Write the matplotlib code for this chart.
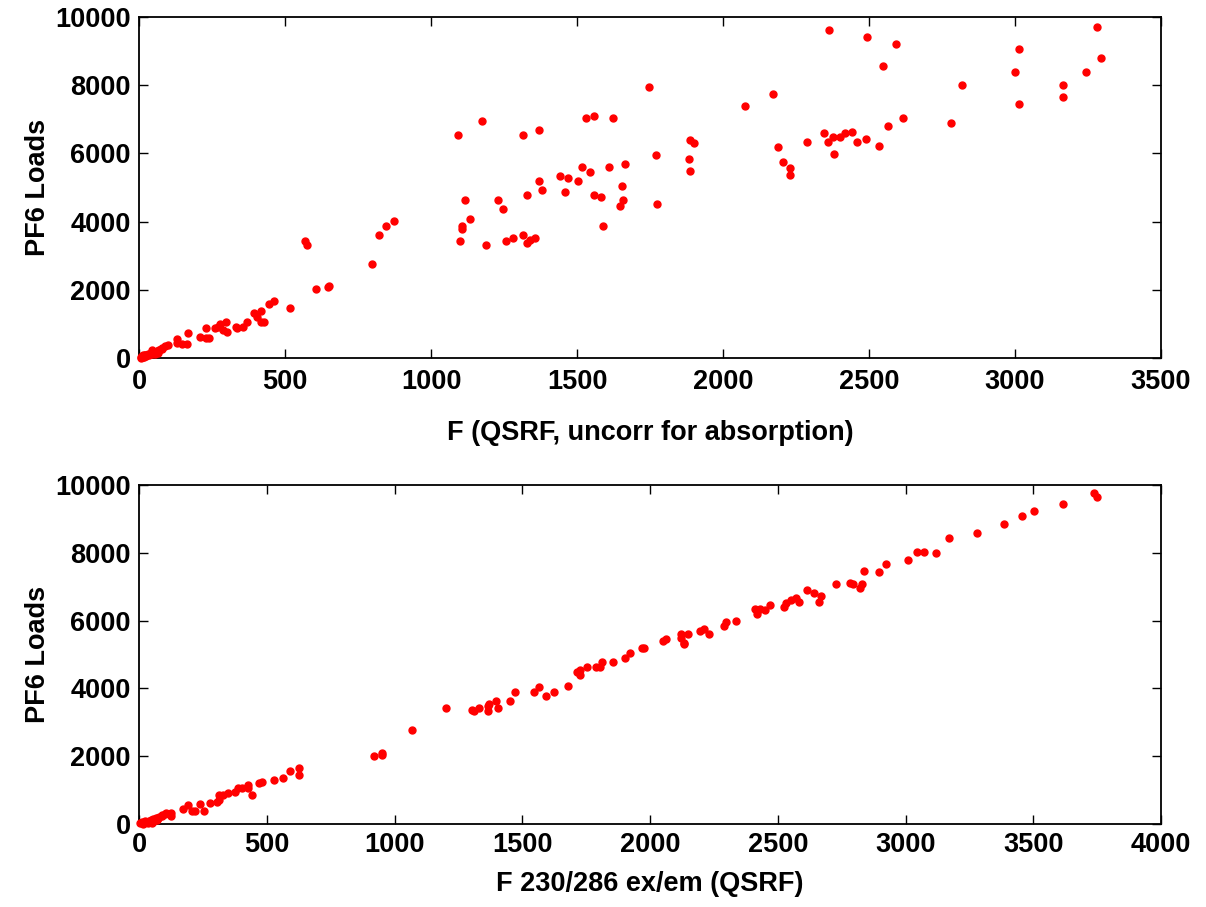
import numpy as np
import matplotlib.pyplot as plt

plt.rcParams['font.family'] = ['Liberation Sans', 'DejaVu Sans']
plt.rcParams['font.weight'] = 'bold'

# F (QSRF, uncorrected) vs PF6 loads
f_uncorr = [5, 8, 10, 12, 15, 18, 20, 25, 30, 35, 40, 45, 50, 55, 60, 65, 70, 80,
            21, 38, 44, 55, 67, 78, 90, 100, 129, 129, 147, 164, 169,
            209, 229, 229, 240, 260, 270, 277, 287, 298, 300, 331, 337, 355, 369,
            392, 403, 417, 417, 428, 446, 462, 517,
            568, 574, 605, 647, 652, 799, 823, 846, 874,
            1094, 1099, 1105, 1105, 1116, 1134, 1176, 1187, 1228, 1245, 1257, 1282,
            1316, 1316, 1328, 1328, 1339, 1357, 1370, 1370, 1381,
            1441, 1458, 1470, 1504, 1516, 1530, 1546, 1558, 1558, 1581, 1588,
            1611, 1623, 1646, 1653, 1659, 1664, 1747, 1769, 1775,
            1882, 1888, 1888, 1900, 2076, 2170, 2187, 2205, 2229, 2229, 2288,
            2346, 2358, 2364, 2376, 2381, 2400, 2417, 2441, 2459, 2488, 2494,
            2535, 2547, 2564, 2594, 2618, 2781, 2817,
            3000, 3012, 3012, 3164, 3164, 3242, 3282, 3293]
pf6_top = [30, 10, 60, 100, 20, 40, 90, 50, 120, 80, 150, 110, 180, 140, 200, 160, 230, 250,
           80, 130, 230, 130, 230, 280, 350, 380, 570, 430, 400, 400, 720,
           630, 870, 580, 600, 870, 920, 1010, 820, 1060, 770, 920, 870, 920, 1060,
           1320, 1210, 1370, 1060, 1060, 1570, 1660, 1470,
           3420, 3320, 2010, 2070, 2110, 2770, 3620, 3870, 4030,
           6540, 3420, 3870, 3770, 4630, 4080, 6950, 3320, 4630, 4380, 3420, 3520,
           6540, 3620, 4780, 3370, 3470, 3520, 6700, 5180, 4930,
           5340, 4880, 5290, 5180, 5590, 7050, 5440, 7100, 4780, 4730, 3870,
           5590, 7050, 4470, 5030, 4630, 5690, 7950, 5940, 4530,
           5840, 6390, 5480, 6290, 7390, 7750, 6190, 5740, 5580, 5380, 6330,
           6590, 6330, 9610, 6490, 5990, 6490, 6590, 6640, 6330, 6430, 9400,
           6230, 8550, 6790, 9210, 7050, 6890, 8000,
           8400, 9050, 7450, 8000, 7640, 8400, 9710, 8800]

# F 230/286 ex/em vs PF6 loads
f_230 = [5, 10, 15, 20, 25, 30, 35, 40, 45, 50, 55, 60, 65, 70, 75, 80, 90, 100,
         75, 88, 105, 124, 124, 171, 193, 206, 219, 239, 254, 278, 304, 311, 311,
         330, 350, 376, 389, 402, 428, 428, 442, 470, 483, 530, 564, 591, 625, 625,
         920, 952, 952, 1067, 1203, 1303, 1310, 1331, 1365, 1365, 1371, 1397, 1404,
         1451, 1472, 1546, 1566, 1593, 1626, 1680, 1713, 1726, 1726, 1753, 1787,
         1806, 1813, 1855, 1902, 1922, 1970, 1978, 2050, 2063, 2123, 2123, 2131,
         2131, 2150, 2197, 2210, 2230, 2291, 2298, 2338, 2411, 2418, 2431, 2451,
         2471, 2525, 2531, 2552, 2571, 2585, 2615, 2642, 2661, 2668, 2729, 2783,
         2796, 2822, 2829, 2836, 2896, 2924, 3011, 3045, 3071, 3118, 3172, 3280,
         3387, 3455, 3502, 3615, 3737, 3751]
pf6_bottom = [20, 60, 10, 30, 90, 50, 20, 80, 120, 40, 150, 100, 180, 130, 190, 220, 280, 300,
              190, 240, 310, 250, 310, 440, 560, 390, 390, 590, 390, 610, 660, 710, 860,
              860, 900, 950, 1050, 1050, 1050, 1150, 860, 1200, 1250, 1300, 1360, 1550, 1450, 1650,
              2010, 2050, 2100, 2760, 3420, 3370, 3320, 3420, 3320, 3480, 3530, 3630, 3420,
              3630, 3880, 3880, 4030, 3780, 3880, 4080, 4490, 4540, 4390, 4640, 4640,
              4640, 4790, 4790, 4900, 5040, 5190, 5190, 5400, 5450, 5600, 5500, 5300,
              5350, 5600, 5700, 5750, 5600, 5850, 5950, 6000, 6350, 6200, 6350, 6300,
              6460, 6400, 6510, 6610, 6660, 6560, 6910, 6810, 6560, 6720, 7070, 7120,
              7070, 6960, 7070, 7470, 7420, 7670, 7780, 8030, 8030, 7980, 8440, 8580,
              8840, 9090, 9240, 9440, 9750, 9650]

x_ticks_top = np.arange(0, 3501, 500)
x_ticks_bottom = np.arange(0, 4001, 500)
y_ticks = np.arange(0, 10001, 2000)

fig = plt.figure(figsize=(12.06, 9.07), dpi=100)
ax1 = fig.add_axes([0.1153, 0.6053, 0.8474, 0.376])
ax2 = fig.add_axes([0.1153, 0.0915, 0.8474, 0.3738])


def style_axes(ax, xmax, xticks, xlabel, xpad, xlabelpad):
    ax.set_xlim(0, xmax)
    ax.set_ylim(0, 10000)
    ax.set_xticks(xticks)
    ax.set_yticks(y_ticks)
    ax.tick_params(direction='in', length=6.5, width=1, top=True, right=True,
                   labelsize=19.5)
    ax.tick_params(axis='x', pad=xpad)
    ax.tick_params(axis='y', pad=6)
    for lab in ax.get_xticklabels() + ax.get_yticklabels():
        lab.set_fontweight('bold')
    for sp in ax.spines.values():
        sp.set_linewidth(1.3)
    ax.set_xlabel(xlabel, fontsize=19.5, fontweight='bold', labelpad=xlabelpad)
    ax.set_ylabel('PF6 Loads', fontsize=19.5, fontweight='bold', labelpad=3)


ax1.plot(f_uncorr, pf6_top, 'o', color='#ff0000', markersize=5, clip_on=False, zorder=3)
style_axes(ax1, 3500, x_ticks_top, 'F (QSRF, uncorr for absorption)', 8, 18)

ax2.plot(f_230, pf6_bottom, 'o', color='#ff0000', markersize=5, clip_on=False, zorder=3)
style_axes(ax2, 4000, x_ticks_bottom, 'F 230/286 ex/em (QSRF)', 6, 9)

fig.savefig('out.png', dpi=100)
